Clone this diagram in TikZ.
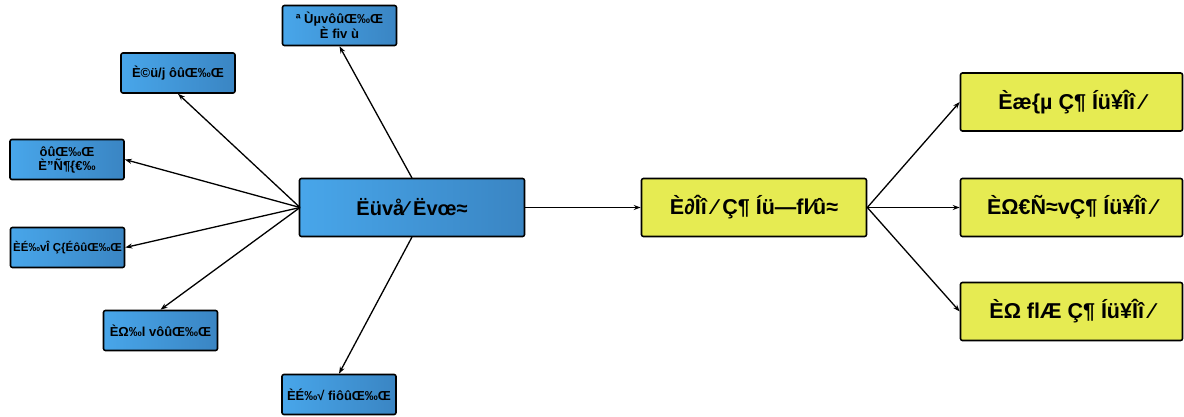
\documentclass[tikz,border=0pt]{standalone}
\usepackage{fontspec}
\setmainfont{Liberation Sans}
\usetikzlibrary{arrows.meta}
\definecolor{blueL}{HTML}{48A6EA}
\definecolor{blueR}{HTML}{3A85C3}
\definecolor{yel}{HTML}{E6EB52}
\tikzset{
  box/.style={draw=black, line width=1.6pt, rounded corners=2pt, align=center,
    inner sep=1pt},
  bluefill/.style={left color=blueL, right color=blueR},
  small/.style={box, bluefill, minimum width=114pt, minimum height=40pt,
    font=\fontsize{13}{14}\selectfont\bfseries},
  big/.style={box, minimum width=225pt, minimum height=58pt,
    font=\fontsize{20}{22}\selectfont\bfseries},
  yelbox/.style={big, fill=yel, font=\fontsize{21.5}{23}\selectfont\bfseries},
  link/.style={line width=1.3pt, -{Stealth[length=7pt,width=5pt]}}
}
\begin{document}
\begin{tikzpicture}[x=1pt,y=-1pt]
\useasboundingbox (0,0) rectangle (1184,417);
% central hub
\node[big, bluefill] (hub) at (412,207.5) {Ëüvå⁄ Ëvœ≈};
% satellites
\node[small] (s1) at (339.5,25.5) {ª ÙµvôûŒ‰Œ\\È fiv ù};
\node[small] (s2) at (178,73) {È©ü/j ôûŒ‰Œ};
\node[small] (s3) at (67,159.5) {ôûŒ‰Œ\\È”Ñ¶\{€‰};
\node[small, font=\fontsize{11.5}{13}\selectfont\bfseries] (s4) at (67.5,247.5)
  {\makebox[108pt][c]{ÈÉ‰vÎ Ç\{ÉôûŒ‰Œ}};
\node[small] (s5) at (160.5,330.5) {ÈΩ‰l vôûŒ‰Œ};
\node[small] (s6) at (339,394.5) {ÈÉ‰√ fiôûŒ‰Œ};
% right chain
\node[yelbox] (m) at (754,207.5) {È∂Îî ⁄ Ç¶ Íü—fl⁄û≈};
\node[yelbox, minimum width=222pt] (r1) at (1071.5,102) {Èæ\{µ Ç¶ Íü¥Îî ⁄};
\node[yelbox, minimum width=222pt] (r2) at (1071.5,207.5) {ÈΩ€Ñ≈vÇ¶ Íü¥Îî ⁄};
\node[yelbox, minimum width=222pt] (r3) at (1071.5,311.5) {ÈΩ flÆ Ç¶ Íü¥Îî ⁄};
% connectors from the hub
\coordinate (ht) at (412,178);
\coordinate (hb) at (412,237);
\coordinate (hl) at (300,207.5);
\draw[link] (ht) -- (s1.south);
\draw[link] (hl) -- (s2.south);
\draw[link] (hl) -- (s3.east);
\draw[link] (hl) -- (s4.east);
\draw[link] (hl) -- (s5.north);
\draw[link] (hb) -- (s6.north);
\draw[link] (hub.east) -- (m.west);
\draw[link] (m.east) -- (r1.west);
\draw[link] (m.east) -- (r2.west);
\draw[link] (m.east) -- (r3.west);
\end{tikzpicture}
\end{document}
